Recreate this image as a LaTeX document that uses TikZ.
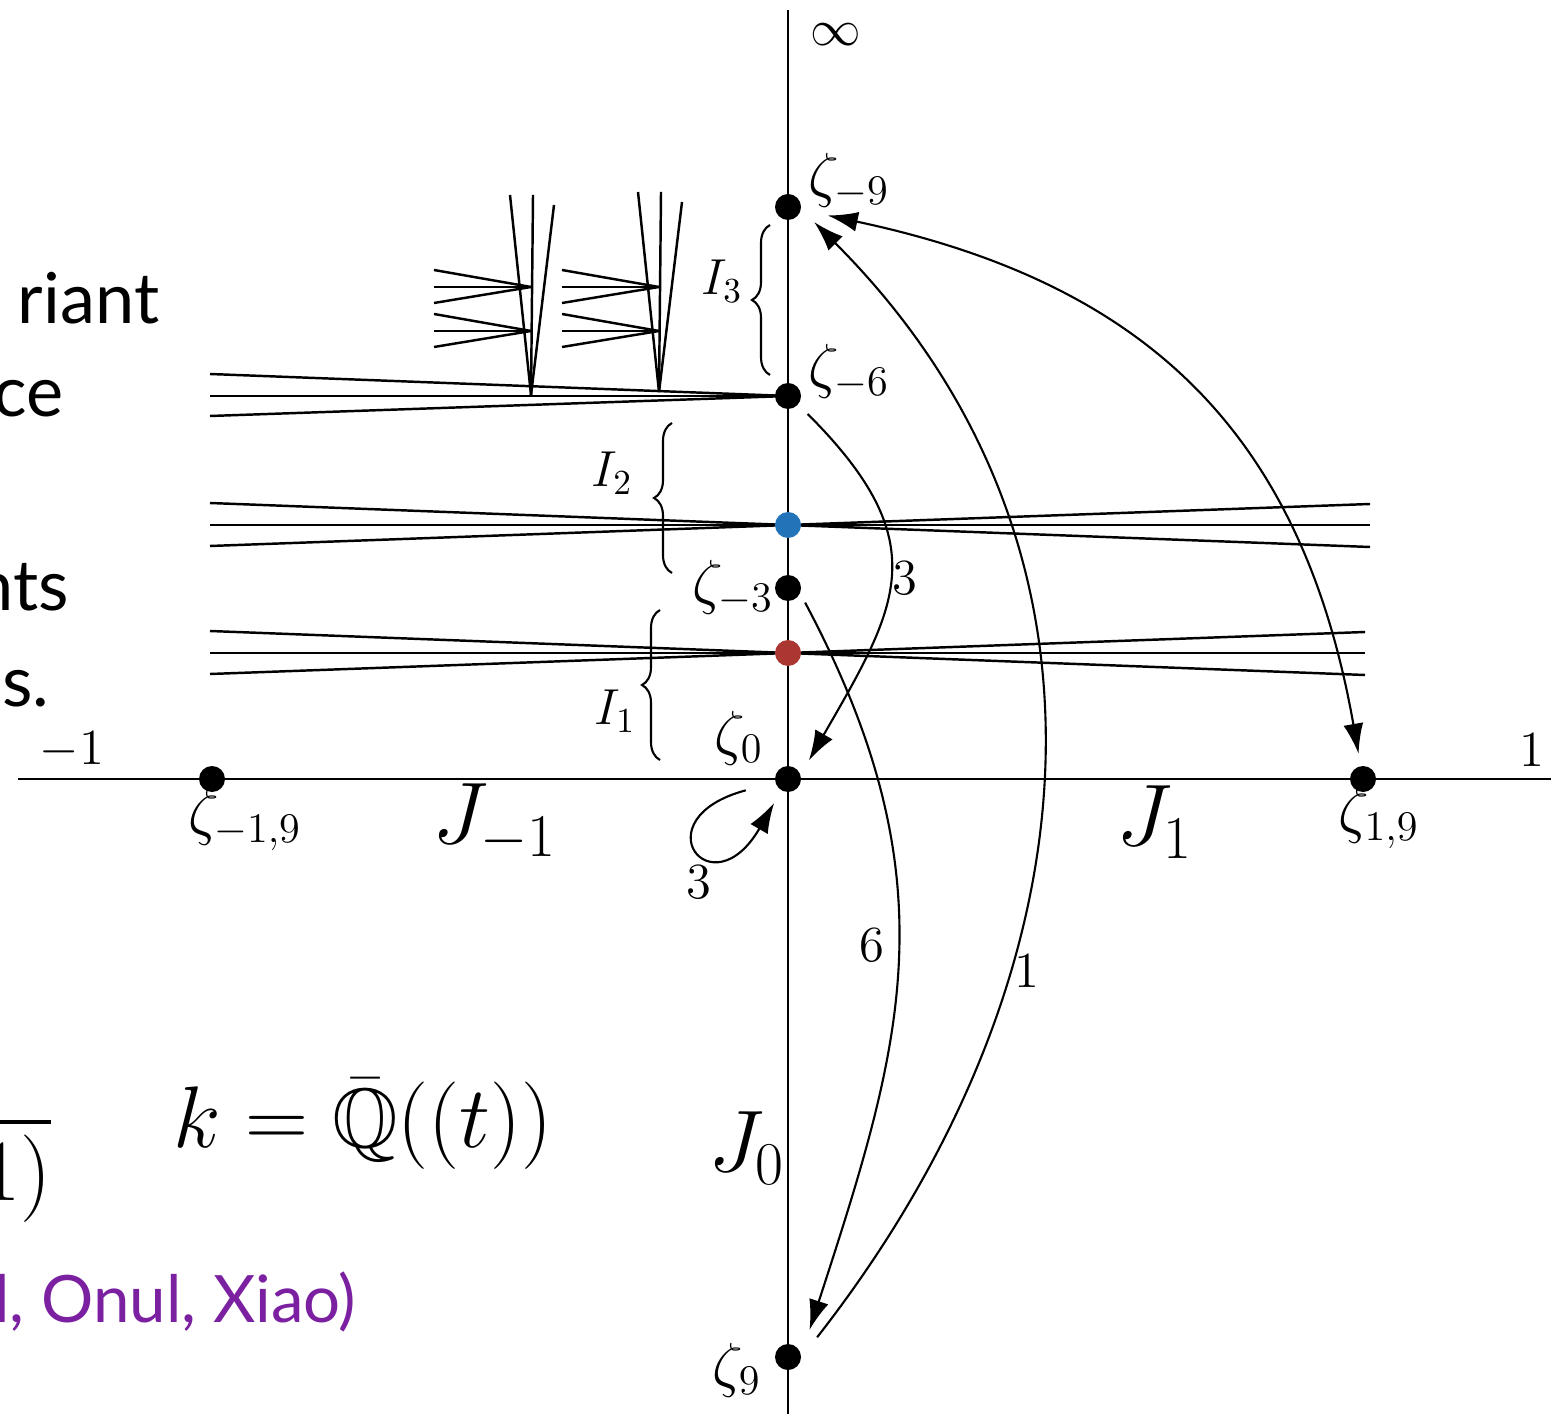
\documentclass[tikz,border=0pt]{standalone}
\usepackage{amssymb}
\usepackage{fontspec}
\newfontfamily\slidefont{Lato}
\usetikzlibrary{arrows.meta, decorations.pathreplacing}
\definecolor{ptblue}{RGB}{35,115,185}
\definecolor{ptred}{RGB}{170,55,50}
\definecolor{citepurple}{RGB}{122,32,160}

\begin{document}
\begin{tikzpicture}[
  dot/.style={circle, fill=black, inner sep=0pt, minimum size=0.26cm},
  lab/.style={font=\Large},
  zlab/.style={font=\fontsize{16.5}{19}\selectfont},
  biglab/.style={font=\fontsize{24}{28}\selectfont},
  slide/.style={font=\slidefont\fontsize{20}{24}\selectfont, inner sep=0pt, anchor=base east},
  arr/.style={-{Latex[length=3mm,width=2mm]}, line width=0.6pt},
  fan/.style={line width=0.7pt},
  bracebox/.style={decorate, decoration={brace, amplitude=0.18cm}, line width=0.6pt}]
\useasboundingbox (0,0) rectangle (15.51,14.14);

% Slide text behind the picture
\node (t1) [slide] at (1.60,10.90) {riant};
\node (t2) [slide] at (0.64,9.97) {ce};
\node (t3) [slide] at (0.70,8.04) {nts};
\node (t4) [slide] at (0.50,7.08) {s.};
\node (t5) [anchor=base east, inner sep=0pt, font=\fontsize{25}{30}\selectfont] at (0.52,2.14) {$\overline{1)}$};
\node (cite) [slide, text=citepurple, font=\slidefont\fontsize{18.6}{22}\selectfont] at (3.57,0.92) {l, Onul, Xiao)};
\node (kfield) [font=\fontsize{24}{29}\selectfont] at (3.63,2.90) {$k=\bar{\mathbb{Q}}((t))$};

% Axes
\coordinate (ytop) at (7.88,14.04);
\coordinate (ybot) at (7.88,0);
\coordinate (xleft) at (0.18,6.35);
\coordinate (xright) at (15.51,6.35);
\draw [fan] (ytop) -- (ybot);
\draw [fan] (xleft) -- (xright);

% Points
\coordinate (zm9) at (7.88,12.07);
\coordinate (zm6) at (7.88,10.18);
\coordinate (pblue) at (7.88,8.89);
\coordinate (zm3) at (7.88,8.26);
\coordinate (pred) at (7.88,7.61);

% Fans
\foreach \dy in {0.22,0,-0.20}
  \draw [fan] (zm6) -- (2.10,10.18+\dy);
\foreach \dy in {0.22,0,-0.21} {
  \draw [fan] (pblue) -- (2.10,8.89+\dy);
  \draw [fan] (pblue) -- (13.70,8.89-\dy);
  \draw [fan] (pred) -- (2.10,7.61+\dy);
  \draw [fan] (pred) -- (13.65,7.61-\dy);
}

% Spikes above zeta_{-6}
\foreach \ax/\ay in {5.31/10.19, 6.59/10.22} {
  \foreach \dx/\up in {-0.21/2.0, 0.02/2.0, 0.23/1.9}
    \draw [fan] (\ax,\ay) -- ++(\dx,\up);
  \foreach \cy in {11.27, 10.83}
    \foreach \dy in {0.17,0,-0.16}
      \draw [fan] (\ax,\cy) -- ++(-0.97,\dy);
}

% Dots
\node (zm9) [dot] at (zm9) {};
\node (zm6) [dot] at (zm6) {};
\node (pblue) [dot, fill=ptblue] at (pblue) {};
\node (zm3) [dot] at (zm3) {};
\node (pred) [dot, fill=ptred] at (pred) {};
\node (z0) [dot] at (7.88,6.35) {};
\node (zm19) [dot] at (2.12,6.35) {};
\node (z19) [dot] at (13.63,6.35) {};
\node (z9) [dot] at (7.88,0.57) {};

% Labels
\node (linf) [lab] at (8.36,13.79) {$\infty$};
\node (lzm9) [zlab] at (8.49,12.33) {$\zeta_{-9}$};
\node (lzm6) [zlab] at (8.49,10.42) {$\zeta_{-6}$};
\node (lzm3) [zlab] at (7.33,8.26) {$\zeta_{-3}$};
\node (lz0) [zlab] at (7.39,6.76) {$\zeta_0$};
\node (lzm19) [zlab] at (2.45,5.93) {$\zeta_{-1,9}$};
\node (lz19) [zlab] at (13.79,5.95) {$\zeta_{1,9}$};
\node (lz9) [zlab] at (7.37,0.44) {$\zeta_9$};
\node (lm1) [lab] at (0.72,6.64) {$-1$};
\node (lp1) [lab] at (15.32,6.64) {$1$};
\node (jm1) [biglab] at (4.95,5.91) {$J_{-1}$};
\node (j1) [biglab] at (11.55,5.92) {$J_1$};
\node (j0) [biglab] at (7.47,2.66) {$J_0$};

% Braces
\draw [bracebox] (7.70,10.39) -- (7.70,11.89);
\node (li3) [lab] at (7.22,11.33) {$I_3$};
\draw [bracebox] (6.72,8.41) -- (6.72,9.91);
\node (li2) [lab] at (6.12,9.41) {$I_2$};
\draw [bracebox] (6.60,6.54) -- (6.60,8.04);
\node (li1) [lab] at (6.15,7.03) {$I_1$};

% Arrows
\draw [arr, shorten <=1.3mm, shorten >=1.6mm] (zm6.-40) to[out=-45, in=60, looseness=1.35] node[right, pos=0.5, lab, inner sep=1pt] {3} (z0.20);
\draw [arr, shorten <=1mm, shorten >=2.6mm] (zm3.-25) to[out=-62, in=72, looseness=1.1] node[left, pos=0.47, lab] {6} (z9.10);
\draw [arr, shorten <=2.5mm, shorten >=1.8mm] (z9.east) to[out=52, in=-45, looseness=1.07] node[right, pos=0.33, lab, inner sep=2pt] {1} (zm9.-10);
\draw [{Latex[length=3mm,width=2mm]}-{Latex[length=3mm,width=2mm]}, line width=0.6pt, shorten <=1.2mm, shorten >=2.7mm] (z19) to[out=100, in=-12, looseness=1.12] (zm9);
\draw [arr, shorten <=3mm, shorten >=1.4mm] (z0) to[out=195, in=240, min distance=1.4cm] node[pos=0.5, anchor=north east, inner sep=1pt, xshift=1.5mm, yshift=-1.5mm, lab] {3} (z0);
\end{tikzpicture}
\end{document}
